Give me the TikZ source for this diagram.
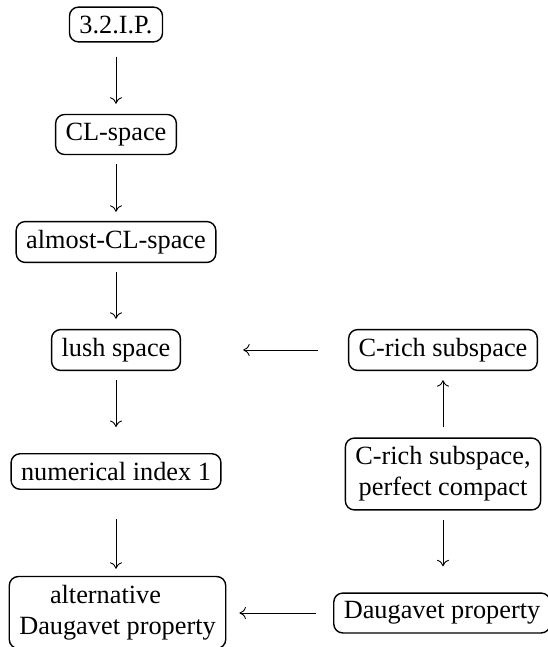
\documentclass[tikz,border=0pt]{standalone}
\usepackage{fontspec}
\setmainfont{Liberation Serif}
\usetikzlibrary{arrows.meta}
\begin{document}
\begin{tikzpicture}[x=1pt,y=-1pt,
  box/.style={draw, rounded corners=9pt, line width=1.4pt, inner xsep=10pt, inner ysep=8.5pt,
    align=center, font=\fontsize{26.3pt}{31pt}\selectfont},
  arr/.style={line width=0.9pt, -{Computer Modern Rightarrow[length=6.5pt,width=12pt,line width=0.9pt]}}]
\useasboundingbox (0,0) rectangle (548,647);
\node[box] (ip)   at (116,24.5) {3.2.I.P.};
\node[box] (cl)   at (116,134.5) {CL-space};
\node[box] (acl)  at (116,242) {almost-CL-space};
\node[box] (lush) at (116,350) {lush space};
\node[box] (num)  at (116,471.5) {numerical index 1};
\node[box] (alt)  at (117.5,612.5) {alternative\hspace*{24pt}\\Daugavet property};
\node[box] (cr)   at (443,350) {C-rich subspace};
\node[box] (crp)  at (443,474) {C-rich subspace,\\perfect compact};
\node[box] (dau)  at (442,613) {Daugavet property};
\draw[arr, shorten <=14pt, shorten >=10pt] (ip) -- (cl);
\draw[arr, shorten <=9pt, shorten >=9pt] (cl) -- (acl);
\draw[arr, shorten <=9pt, shorten >=10pt] (acl) -- (lush);
\draw[arr, shorten <=9pt, shorten >=26pt] (lush) -- (num);
\draw[arr, shorten <=29pt, shorten >=7pt] (num.south) -- (num.south |- alt.north);
\draw[arr, shorten <=10pt, shorten >=9pt] (crp) -- (cr);
\draw[arr, shorten <=9pt, shorten >=26pt] (crp.south) -- (crp.south |- dau.north);
\draw[arr, shorten <=30pt, shorten >=62pt] (cr.west) -- (lush.east);
\draw[arr, shorten <=17pt, shorten >=13pt] (dau.west) -- (alt.east |- dau.west);
\end{tikzpicture}
\end{document}
